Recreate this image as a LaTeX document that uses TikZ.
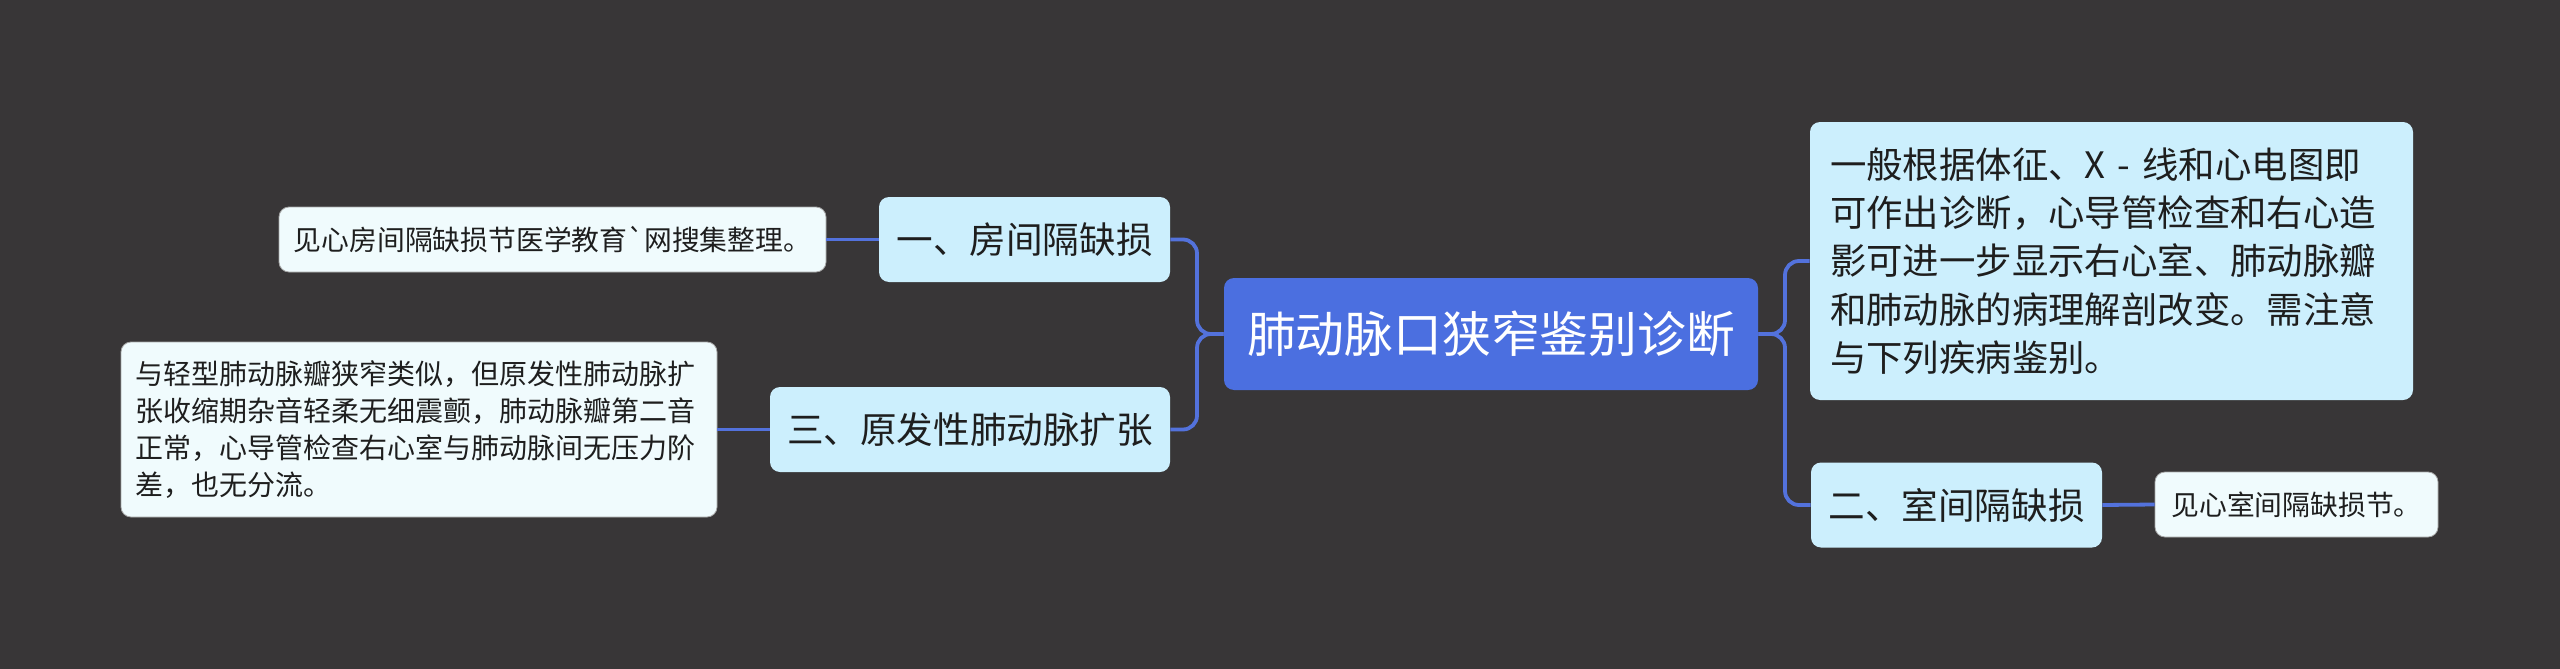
\documentclass[tikz,border=0pt]{standalone}
\usepackage{fontspec}
\newfontfamily\cjk{Noto Sans CJK SC}
\definecolor{bg}{HTML}{383637}
\definecolor{mainblue}{HTML}{4B6FE0}
\definecolor{titlefill}{HTML}{CCEFFD}
\definecolor{leaffill}{HTML}{F0FBFD}
\definecolor{conncol}{HTML}{5372DC}
\definecolor{txt}{HTML}{1E1E1E}
\tikzset{
  base/.style={rounded corners=5pt, inner sep=0pt, anchor=center, text=txt},
  central/.style={base, fill=mainblue, text=white, minimum width=267pt, minimum height=56pt,
    font=\cjk\fontsize{24.4pt}{28pt}\selectfont},
  title/.style={base, fill=titlefill, minimum height=42.5pt,
    font=\cjk\fontsize{18.3pt}{22pt}\selectfont},
  bigtitle/.style={base, fill=titlefill, align=left,
    font=\cjk\fontsize{18.2pt}{24.15pt}\selectfont},
  leaf/.style={base, fill=leaffill, draw=black!35, line width=0.4pt, minimum height=32.5pt,
    font=\cjk\fontsize{13.9pt}{18.5pt}\selectfont},
  bigleaf/.style={base, fill=leaffill, draw=black!35, line width=0.4pt, align=left,
    font=\cjk\fontsize{14pt}{18.5pt}\selectfont},
  conn/.style={draw=conncol, line width=1.9pt, rounded corners=7pt}
}
\begin{document}
\begin{tikzpicture}[x=0.5pt,y=-0.5pt]
\fill[bg] (0,0) rectangle (2560,669);
\useasboundingbox (0,0) rectangle (2560,669);

\coordinate (lsp) at (1197,334);
\coordinate (rsp) at (1785,334);

\node[central] (c) at (1491,334) {肺动脉口狭窄鉴别诊断};

\node[bigtitle, minimum width=301.5pt, minimum height=139pt, text width=281.5pt] (r1) at (2111.5,261)
 {一般根据体征、X - 线和心电图即\\可作出诊断，心导管检查和右心造\\影可进一步显示右心室、肺动脉瓣\\和肺动脉的病理解剖改变。需注意\\与下列疾病鉴别。};
\node[title, minimum width=145.5pt] (r2) at (1956.5,505) {二、室间隔缺损};
\node[leaf, minimum width=141.5pt] (r2l) at (2296.5,504.5) {见心室间隔缺损节。};

\node[title, minimum width=145.5pt] (l1) at (1024.5,239.5) {一、房间隔缺损};
\node[leaf, minimum width=273.5pt] (l1l) at (552.5,239.5) {见心房间隔缺损节医学教育`网搜集整理。};

\node[title, minimum width=200pt] (l3) at (970,429.5) {三、原发性肺动脉扩张};
\node[bigleaf, minimum width=298pt, minimum height=87.5pt, text width=284pt] (l3l) at (419,429.5)
 {与轻型肺动脉瓣狭窄类似，但原发性肺动脉扩\\张收缩期杂音轻柔无细震颤，肺动脉瓣第二音\\正常，心导管检查右心室与肺动脉间无压力阶\\差，也无分流。};

\draw[conn] (c.west) -- (lsp) |- (l1.east);
\draw[conn] (c.west) -- (lsp) |- (l3.east);
\draw[conn] (c.east) -- (rsp) |- (r1.west);
\draw[conn] (c.east) -- (rsp) |- (r2.west);
\draw[conn] (l1.west) -- (l1l.east);
\draw[conn] (l3.west) -- (l3l.east);
\draw[conn] (r2.east) -- (r2l.west);
\end{tikzpicture}
\end{document}
